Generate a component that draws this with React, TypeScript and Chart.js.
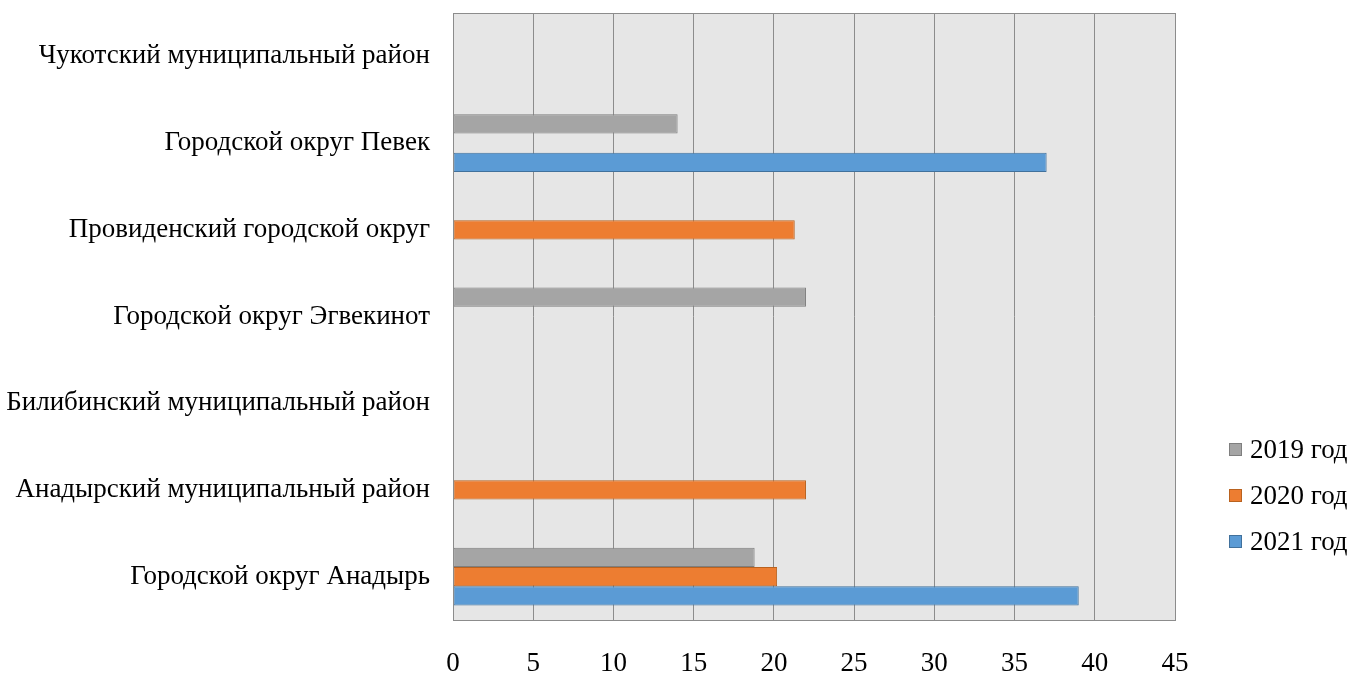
import React, { useEffect, useRef } from "react";
import { Chart, registerables } from "chart.js";

Chart.register(...registerables);

const categories = [
  "Чукотский муниципальный район",
  "Городской округ Певек",
  "Провиденский городской округ",
  "Городской округ Эгвекинот",
  "Билибинский муниципальный район",
  "Анадырский муниципальный район",
  "Городской округ Анадырь",
];
const values2019 = [null, 14, null, 22, null, null, 18.8];
const values2020 = [null, null, 21.3, null, null, 22, 20.2];
const values2021 = [null, 37, null, null, null, null, 39];
const seriesNames = ["2019 год", "2020 год", "2021 год"];
const fills = ["#a5a5a5", "#ed7d31", "#5b9bd5"];
const borders = ["#7f7f7f", "#b9621f", "#41719c"];

const FONT = "'Liberation Serif', 'Times New Roman', serif";

const plotBg = {
  id: "plotBg",
  beforeDraw(chart: any) {
    const { ctx, chartArea: a } = chart;
    ctx.save();
    ctx.fillStyle = "#e6e6e6";
    ctx.fillRect(a.left, a.top, a.right - a.left, a.bottom - a.top);
    ctx.restore();
  },
  afterDatasetsDraw(chart: any) {
    const { ctx, chartArea: a } = chart;
    ctx.save();
    ctx.strokeStyle = "#8c8c8c";
    ctx.lineWidth = 1;
    ctx.strokeRect(Math.round(a.left) + 0.5, Math.round(a.top) + 0.5, Math.round(a.right - a.left), Math.round(a.bottom - a.top));
    ctx.restore();
  },
};

export default function App() {
  const ref = useRef<HTMLCanvasElement>(null);
  useEffect(() => {
    if (!ref.current) return;
    const data = [values2019, values2020, values2021];
    const chart = new Chart(ref.current, {
      type: "bar",
      data: {
        labels: categories,
        datasets: data.map((d, i) => ({
          label: seriesNames[i],
          data: d as any,
          backgroundColor: fills[i],
          borderColor: borders[i],
          borderWidth: 1,
          borderSkipped: false,
          categoryPercentage: 0.667,
          barPercentage: 1,
        })),
      },
      options: {
        indexAxis: "y",
        responsive: false,
        animation: false,
        layout: { padding: { top: 13, right: 174, left: 0, bottom: 0 } },
        plugins: { legend: { display: false }, tooltip: { enabled: false } },
        scales: {
          x: {
            min: 0,
            max: 45,
            ticks: { stepSize: 5, color: "#000", font: { family: FONT, size: 27 }, padding: 28 },
            grid: { color: "#8c8c8c", drawTicks: false, lineWidth: 1 },
            border: { display: false },
            afterFit: (s: any) => { s.height = 53; },
          },
          y: {
            ticks: { color: "#000", font: { family: FONT, size: 27 }, padding: 23 },
            grid: { display: false, drawTicks: false },
            border: { display: false },
            afterFit: (s: any) => { s.width = 453; s.paddingTop = 0; s.paddingBottom = 0; },
          },
        },
      },
      plugins: [plotBg],
    });
    return () => chart.destroy();
  }, []);

  return (
    <div style={{ position: "fixed", left: 0, top: 0, width: 1349, height: 673, background: "#fff" }}>
      <canvas ref={ref} width={1349} height={673} style={{ display: "block" }} />
      <div style={{ position: "absolute", left: 1229, top: 426, fontFamily: FONT, fontSize: 27, color: "#000", whiteSpace: "nowrap" }}>
        {seriesNames.map((n, i) => (
          <div key={n} style={{ display: "flex", alignItems: "center", height: 46 }}>
            <span style={{ width: 11, height: 11, background: fills[i], border: `1px solid ${borders[i]}`, marginRight: 8, display: "inline-block", flex: "none" }} />
            <span>{n}</span>
          </div>
        ))}
      </div>
    </div>
  );
}
